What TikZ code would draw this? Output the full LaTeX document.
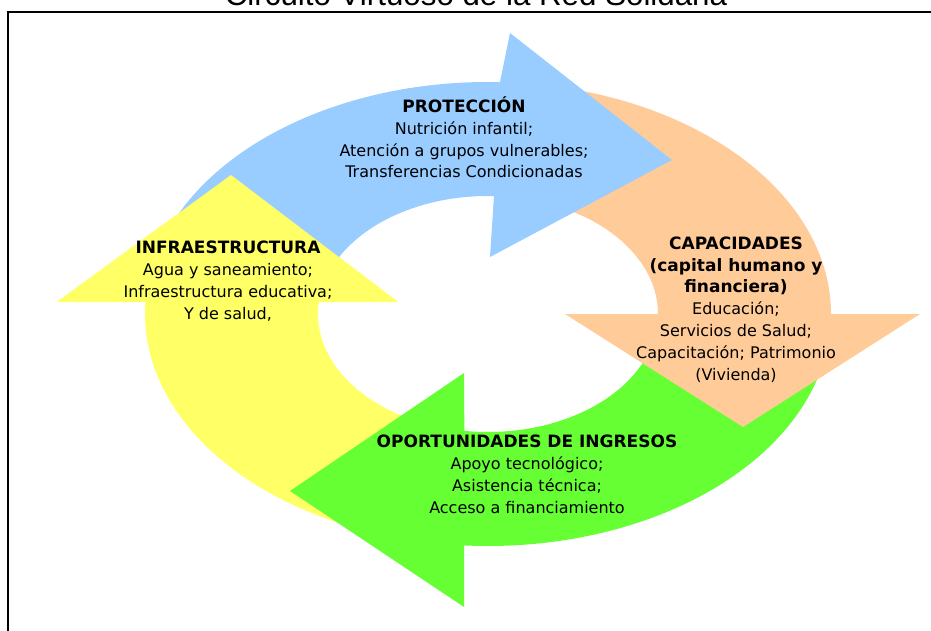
\documentclass[tikz,border=0pt]{standalone}
\usepackage{fontspec}
\setmainfont{DejaVu Sans}
\newfontfamily\titlefont{Liberation Sans}
\usetikzlibrary{calc}
\definecolor{protblue}{HTML}{99CCFF}
\definecolor{capapeach}{HTML}{FFCC99}
\definecolor{oportgreen}{HTML}{66FF33}
\definecolor{infrayellow}{HTML}{FFFF66}
\newcommand{\hd}[1]{{\fontsize{17}{21.8}\selectfont\bfseries #1}}

\begin{document}
\begin{tikzpicture}[x=1pt, y=1pt,
    txt/.style={align=center, inner sep=0pt, anchor=base, font=\fontsize{16}{21.8}\selectfont},
    outer/.style={x radius=343pt, y radius=232pt},
    inner/.style={x radius=170pt, y radius=118pt}]
    \useasboundingbox (0,0) rectangle (931,630);
    \clip (0,0) rectangle (931,630);
    \coordinate (c) at (488,316);
    \node[anchor=base, inner sep=0pt, font=\titlefont\fontsize{31.3}{36}\selectfont] (title) at (476,624) {Circuito Virtuoso de la Red Solidaria};
    \draw[line width=2pt] (8,-10) -- (8,617.5) -- (945,617.5);
    \fill[infrayellow] ($(c)+(246:343pt and 232pt)$) arc[start angle=246, end angle=177, outer] -- (57,328) -- (231,455) -- (398,328) -- ($(c)+(174:170pt and 118pt)$) arc[start angle=174, end angle=246, inner] -- cycle;
    \fill[oportgreen] ($(c)+(2:343pt and 232pt)$) arc[start angle=2, end angle=-94, outer] -- (464,23) -- (290,139) -- (464,257) -- ($(c)+(-98:170pt and 118pt)$) arc[start angle=-98, end angle=2, inner] -- cycle;
    \fill[capapeach] ($(c)+(80:343pt and 232pt)$) arc[start angle=80, end angle=0, outer] -- (920,316) -- (743,203) -- (565,316) -- ($(c)+(0:170pt and 118pt)$) arc[start angle=0, end angle=80, inner] -- cycle;
    \fill[protblue] ($(c)+(170:343pt and 232pt)$) arc[start angle=170, end angle=88, outer] -- (510,597) -- (672,470) -- (490,373) -- ($(c)+(88:170pt and 118pt)$) arc[start angle=88, end angle=170, inner] -- cycle;
    \fill[infrayellow] (57,328) -- (231,455) -- (398,328) -- cycle;
    \node[txt] (protec) at (464,452) {\hd{PROTECCIÓN}\\Nutrición infantil;\\Atención a grupos vulnerables;\\Transferencias Condicionadas};
    \node[txt] (capac) at (736,250) {\hd{CAPACIDADES}\\\hd{(capital humano y}\\\hd{financiera)}\\Educación;\\Servicios de Salud;\\Capacitación; Patrimonio\\(Vivienda)};
    \node[txt] (infra) at (228,311) {\hd{INFRAESTRUCTURA}\\Agua y saneamiento;\\Infraestructura educativa;\\Y de salud,};
    \node[txt] (oport) at (527,116.7) {\hd{OPORTUNIDADES DE INGRESOS}\\Apoyo tecnológico;\\Asistencia técnica;\\Acceso a financiamiento};
\end{tikzpicture}
\end{document}
